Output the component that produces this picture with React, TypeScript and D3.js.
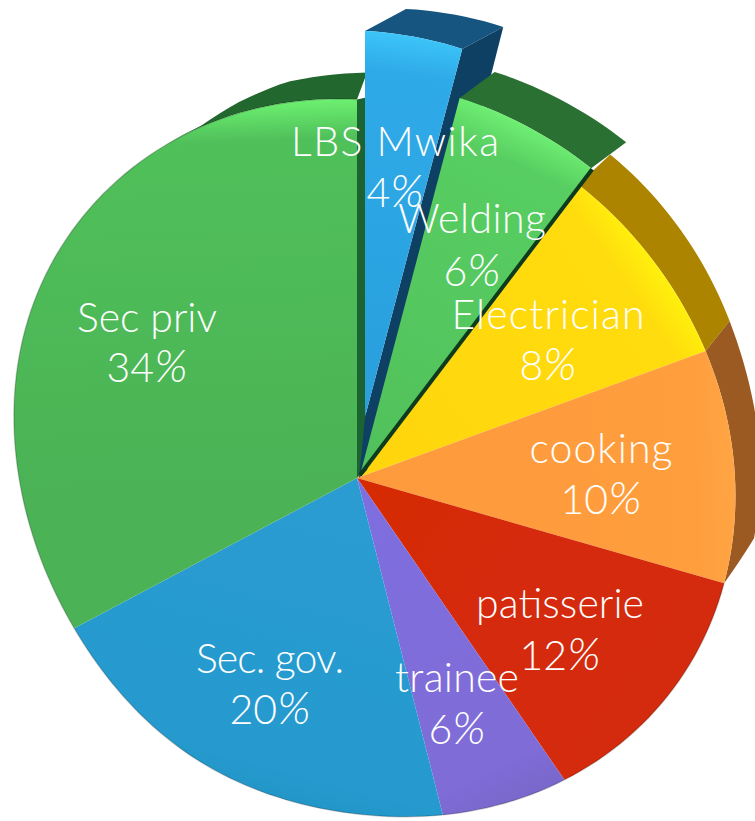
import React from "react";
import * as d3 from "d3";

const categories = ["LBS Mwika", "Welding", "Electrician", "cooking", "patisserie", "trainee", "Sec. gov.", "Sec priv"];
const percentages = [4, 6, 8, 10, 12, 6, 20, 34];

// Styles: [rim highlight, main, inner]
const faceRim = ["#3cc4f8", "#6eee72", "#fff00c", "#ffa544", "#d42a08", "#7a68cc", "#2496c8", "#6cf070"];
const faceMain = ["#2eaae8", "#58ce62", "#ffdc0a", "#ff9e3e", "#d42a08", "#7f6cd6", "#259ace", "#50c05a"];
const faceInner = ["#2a9fdc", "#50c05a", "#ffd50c", "#fd9a3e", "#d62c06", "#7f6ee0", "#2c9cd2", "#4bb356"];
const sideColor = ["#124e78", "#2b7030", "#ad8400", "#9b5a24", "none", "none", "none", "#23672f"];
const lightAngle = [7, 25, 55, 88, 125, 155, 195, 358];

// Layout of labels
const labelX = [395, 472, 548, 601, 560, 457, 270, 147];
const nameY = [156, 233, 329, 463, 618, 692, 673, 332];
const pctY = [207, 286, 380, 514, 670, 744, 724, 382];
const labelW = [208, 148, 193, 143, 168, 124, 148, 140];

const W = 755, H = 821;
const pivot = { x: 357, y: 478 };
// The face's outline seen in perspective, radius every 30 degrees clockwise from the top
const rimRadii = [379, 367, 366, 379, 386, 364, 332, 324, 315, 335, 373, 388];
const rimAt = d3.interpolateBasisClosed(rimRadii);
const TAU = Math.PI * 2;
const rim = (a: number) => {
  const t = ((a % TAU) + TAU) % TAU / TAU;
  return rimAt(t);
};

const deg = (d: number) => (d * Math.PI) / 180;
const pieArcs = d3.pie<number>().sort(null).startAngle(0).endAngle(TAU)(percentages);
// Perspective skews the slice boundaries: true pie angle to the angle seen in the picture
const seenBoundaries = [0, 14.8, 37, 70, 106, 145.5, 165.7, 242, 360];
const perspective = d3.scaleLinear()
  .domain([...pieArcs.map((a) => a.startAngle), TAU])
  .range(seenBoundaries.map(deg));
const arcs = pieArcs.map((a) => ({ startAngle: perspective(a.startAngle), endAngle: perspective(a.endAngle) }));

// Depth of the extruded side, by seen angle
const depthDomain = [0, 37, 70, 88, 100, 106, 330, 336, 342, 349, 360].map(deg);
const depthX = d3.scaleLinear().domain(depthDomain).range([10, 32, 24, 26, 22, 0, 0, 0, 0, 2, 10]);
const depthY = d3.scaleLinear().domain(depthDomain).range([-27, -30, -30, -15, -6, 0, 0, -1, -11, -21, -27]);

type Shape = { ox: number; oy: number; scale: number; depth?: (a: number) => [number, number] };
const normal: Shape = { ox: pivot.x, oy: pivot.y, scale: 1 };
const shapes: Shape[] = arcs.map((_, i) => {
  if (i === 0) return { ox: 365, oy: 417, scale: 1.02, depth: () => [41, -22] };
  if (i === 1) return { ox: 360, oy: 475, scale: 1.045, depth: () => [35, -26] };
  return normal;
});

const pt = (s: Shape, a: number, extra = false): [number, number] => {
  const r = rim(a) * s.scale;
  const d: [number, number] = extra ? (s.depth ? s.depth(a) : [depthX(a), depthY(a)]) : [0, 0];
  return [s.ox + r * Math.sin(a) + d[0], s.oy - r * Math.cos(a) + d[1]];
};

const samples = (a0: number, a1: number) => {
  const n = Math.max(4, Math.ceil((a1 - a0) / deg(1.5)));
  return d3.range(n + 1).map((k) => a0 + ((a1 - a0) * k) / n);
};
const line = d3.line<[number, number]>();

const facePath = (i: number) => {
  const s = shapes[i];
  const a = arcs[i];
  return line([[s.ox, s.oy], ...samples(a.startAngle, a.endAngle).map((t) => pt(s, t))]) + "Z";
};
const rimPath = (i: number) => line(samples(arcs[i].startAngle, arcs[i].endAngle).map((t) => pt(shapes[i], t))) as string;
const sidePath = (i: number) => {
  const s = shapes[i];
  const a = arcs[i];
  const ts = samples(a.startAngle, a.endAngle);
  return line([...ts.map((t) => pt(s, t)), ...[...ts].reverse().map((t) => pt(s, t, true))]) + "Z";
};

export default function App() {
  const lbs = arcs[0], weld = arcs[1];
  const lbsS = shapes[0], weldS = shapes[1];
  const lbsEnd = pt(lbsS, lbs.endAngle);
  const weldEnd = pt(weldS, weld.endAngle);
  const lastTop = pt(normal, 0);
  return (
    <svg width={W} height={H} viewBox={`0 0 ${W} ${H}`} style={{ position: "fixed", left: 0, top: 0, background: "#fff" }}>
      <defs>
        <filter id="soft" x="-5%" y="-5%" width="110%" height="110%">
          <feGaussianBlur stdDeviation="0.7" />
        </filter>
        {arcs.map((_, i) => {
          const a = deg(lightAngle[i]);
          const r = rim(a) * shapes[i].scale;
          return (
            <linearGradient key={i} id={`face${i}`} gradientUnits="userSpaceOnUse"
              x1={shapes[i].ox + r * Math.sin(a)} y1={shapes[i].oy - r * Math.cos(a)}
              x2={shapes[i].ox} y2={shapes[i].oy}>
              <stop offset="0" stopColor={faceRim[i]} />
              <stop offset="0.1" stopColor={faceMain[i]} />
              <stop offset="1" stopColor={faceInner[i]} />
            </linearGradient>
          );
        })}
      </defs>
      <g filter="url(#soft)">
        {/* back sides of the pie */}
        {[7, 2, 3].map((i) => (
          <path key={i} d={sidePath(i)} fill={sideColor[i]} />
        ))}
        {/* faces of the main pie */}
        {[2, 3, 4, 5, 6, 7].map((i) => (
          <path key={i} d={facePath(i)} fill={`url(#face${i})`} />
        ))}
        {[4, 5, 6, 7].map((i) => (
          <path key={i} d={rimPath(i)} fill="none" stroke="#000" strokeOpacity={0.2} strokeWidth={1.4} />
        ))}
        {/* inner wall next to Sec priv */}
        <path d={line([[pivot.x, pivot.y], lastTop, [lastTop[0] + 9, lastTop[1] - 2], [pivot.x + 9, pivot.y - 10]]) + "Z"} fill="#1f6433" />
        {/* exploded LBS Mwika */}
        <path d={sidePath(0)} fill="#14557f" />
        <path d={line([[lbsS.ox, lbsS.oy], lbsEnd, [lbsEnd[0] + 41, lbsEnd[1] - 22], [lbsEnd[0] + 27, lbsEnd[1] + 33], [pivot.x + 10, pivot.y - 8], [pivot.x + 2, pivot.y]]) + "Z"} fill="#103f63" />
        {/* exploded Welding */}
        <path d={sidePath(1)} fill={sideColor[1]} />
        <path d={facePath(1)} fill="url(#face1)" />
        <path d={line([[weldS.ox, weldS.oy], [weldEnd[0] + 1, weldEnd[1] + 1]]) as string} stroke="#0d3a1e" strokeWidth={4} fill="none" />
        <path d={facePath(0)} fill="url(#face0)" />
      </g>
      <g fill="#fff" textAnchor="middle" fontFamily="Lato, 'Open Sans', sans-serif" fontWeight={300} fontSize={41}>
        {categories.map((c, i) => (
          <g key={c}>
            <text x={labelX[i]} y={nameY[i]} textLength={labelW[i]} lengthAdjust="spacing">{c}</text>
            <text x={labelX[i]} y={pctY[i]}>
              {percentages[i]}
              <tspan fontStyle="italic" fontSize={46}>%</tspan>
            </text>
          </g>
        ))}
      </g>
    </svg>
  );
}
